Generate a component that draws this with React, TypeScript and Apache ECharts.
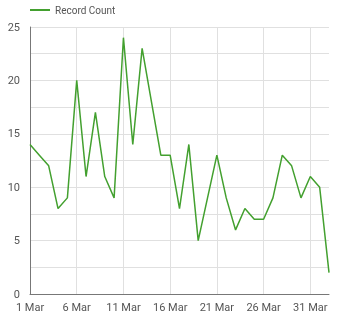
import React, { useEffect, useRef } from "react";
import * as echarts from "echarts";

const categories = [
  "1 Mar", "2 Mar", "3 Mar", "4 Mar", "5 Mar", "6 Mar", "7 Mar", "8 Mar", "9 Mar", "10 Mar",
  "11 Mar", "12 Mar", "13 Mar", "14 Mar", "15 Mar", "16 Mar", "17 Mar", "18 Mar", "19 Mar", "20 Mar",
  "21 Mar", "22 Mar", "23 Mar", "24 Mar", "25 Mar", "26 Mar", "27 Mar", "28 Mar", "29 Mar", "30 Mar",
  "31 Mar", "1 Apr", "2 Apr",
];
const recordCount = [
  14, 13, 12, 8, 9, 20, 11, 17, 11, 9,
  24, 14, 23, 18, 13, 13, 8, 14, 5, 9,
  13, 9, 6, 8, 7, 7, 9, 13, 12, 9,
  11, 10, 2,
];
const seriesName = "Record Count";

export default function App() {
  const ref = useRef<HTMLDivElement>(null);
  useEffect(() => {
    const chart = echarts.init(ref.current!, null, { renderer: "svg" });
    chart.setOption({
      animation: false,
      textStyle: { fontFamily: "Roboto" },
      legend: {
        left: 30,
        top: 5,
        padding: 0,
        icon: "rect",
        itemWidth: 20,
        itemHeight: 2,
        itemGap: 6,
        textStyle: { color: "#555", fontSize: 10, fontFamily: "Roboto", padding: [0, 0, 0, 0] },
        data: [seriesName],
      },
      grid: { left: 30, right: 20, top: 27, bottom: 28, containLabel: false },
      xAxis: {
        type: "category",
        data: categories,
        boundaryGap: false,
        axisLine: { lineStyle: { color: "#777" } },
        axisTick: { show: false },
        axisLabel: { interval: 4, color: "#555", fontSize: 11, margin: 8 },
        splitLine: { show: true, interval: 4, lineStyle: { color: "#e0e0e0" } },
      },
      yAxis: {
        type: "value",
        min: 0,
        max: 25,
        interval: 2.5,
        axisLine: { show: true, lineStyle: { color: "#777" } },
        axisTick: { show: false },
        axisLabel: {
          color: "#555",
          fontSize: 11,
          margin: 10,
          formatter: (v: number) => (v % 5 === 0 ? String(v) : ""),
        },
        splitLine: { show: true, lineStyle: { color: "#e0e0e0" } },
      },
      series: [
        {
          name: seriesName,
          type: "line",
          data: recordCount,
          symbol: "none",
          lineStyle: { color: "#43a02f", width: 1.5 },
          itemStyle: { color: "#43a02f" },
        },
      ],
    });
    return () => chart.dispose();
  }, []);
  return (
    <div
      ref={ref}
      style={{ position: "fixed", left: 0, top: 0, width: 349, height: 322 }}
    />
  );
}
